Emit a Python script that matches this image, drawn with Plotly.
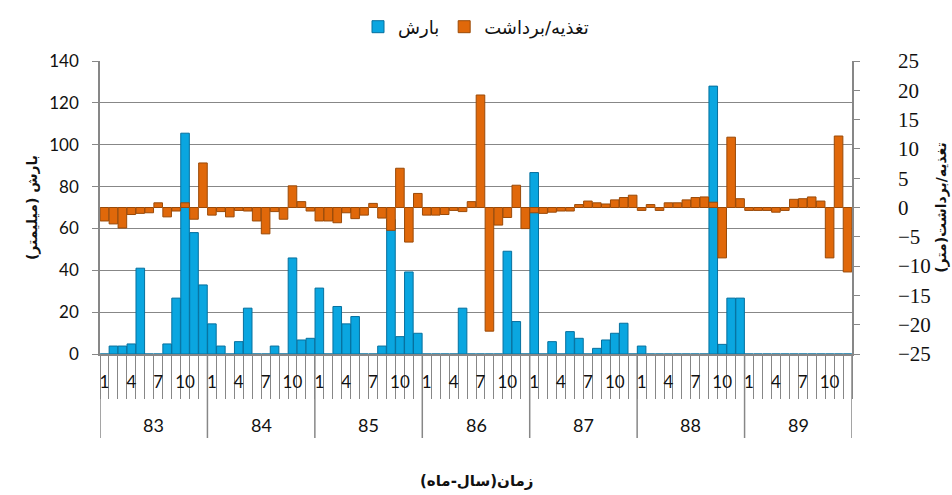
import plotly.graph_objects as go

# ---------------- data ----------------
years = ["83", "84", "85", "86", "87", "88", "89"]
months = ["1", "2", "3", "4", "5", "6", "7", "8", "9", "10", "11", "12"]
shown_months = ["1", "4", "7", "10"]

# precipitation (mm), per year, months 1..12
rain_83 = [0, 3.8, 3.8, 4.8, 41, 0, 0, 4.8, 26.7, 105.5, 58, 33]
rain_84 = [14.4, 3.8, 0, 5.9, 21.9, 0, 0, 3.8, 0, 45.9, 6.7, 7.5]
rain_85 = [31.5, 0, 22.7, 14.4, 17.9, 0, 0, 3.8, 64.3, 8.3, 39.2, 9.9]
rain_86 = [0, 0, 0, 0, 21.9, 0, 0, 0, 0, 49.1, 15.5, 0]
rain_87 = [86.7, 0, 5.9, 0, 10.7, 7.5, 0, 2.7, 6.7, 9.9, 14.7, 0]
rain_88 = [3.8, 0, 0, 0, 0, 0, 0, 0, 128, 4.6, 26.7, 26.7]
rain_89 = [0, 0, 0, 0, 0, 0, 0, 0, 0, 0, 0, 0]

# recharge / withdrawal (m), per year, months 1..12
gw_83 = [-2.3, -2.8, -3.5, -1.2, -1.0, -0.9, 0.8, -1.6, -0.6, 0.8, -2.0, 7.6]
gw_84 = [-1.3, -0.7, -1.6, -0.5, -0.6, -2.3, -4.5, -0.7, -2.0, 3.7, 1.0, -0.6]
gw_85 = [-2.3, -2.3, -2.6, -0.9, -1.9, -1.3, 0.7, -1.8, -3.9, 6.7, -5.9, 2.4]
gw_86 = [-1.3, -1.3, -1.2, -0.5, -0.7, 1.0, 19.2, -21.1, -3.0, -1.7, 3.8, -3.6]
gw_87 = [-0.9, -1.0, -0.8, -0.6, -0.6, 0.5, 1.1, 0.8, 0.6, 1.3, 1.7, 2.1]
gw_88 = [-0.5, 0.5, -0.5, 0.8, 0.8, 1.3, 1.7, 1.8, 0.9, -8.6, 12.0, 1.5]
gw_89 = [-0.5, -0.5, -0.5, -0.8, -0.5, 1.4, 1.5, 1.8, 1.1, -8.6, 12.2, -11.0]

rain = rain_83 + rain_84 + rain_85 + rain_86 + rain_87 + rain_88 + rain_89
gw = gw_83 + gw_84 + gw_85 + gw_86 + gw_87 + gw_88 + gw_89

n_m = len(months)
idx = list(range(len(years) * n_m))
tick_vals = [yi * n_m + months.index(m) for yi in range(len(years)) for m in shown_months]
tick_text = [m for yi in range(len(years)) for m in shown_months]

GRID = "#878787"
ARABIC = "DejaVu Sans"
LAT = "Lato, 'Open Sans', sans-serif"
SERIF = "'Liberation Serif', 'Times New Roman', serif"

fig = go.Figure()
fig.add_trace(go.Bar(
    x=idx, y=rain, name="بارش", yaxis="y",
    marker=dict(color="#0AA6E0", line=dict(color="#06709E", width=1)),
))
fig.add_trace(go.Bar(
    x=idx, y=gw, name="تغذیه/برداشت", yaxis="y2",
    marker=dict(color="#E0680A", line=dict(color="#9A4A08", width=1)),
))

# plot-area geometry (px) for placing the hierarchical labels
PLOT_H = 495 - 61 - 141

shapes = []
for yi in range(len(years) + 1):
    xb = yi * n_m - 0.5
    shapes.append(dict(type="line", xref="x", yref="paper",
                       x0=xb, x1=xb, y0=0, y1=-84 / PLOT_H,
                       line=dict(color=GRID, width=1.5)))

annotations = []
for yi, yr in enumerate(years):
    annotations.append(dict(x=yi * n_m + (n_m - 1) / 2, y=-71 / PLOT_H,
                            xref="x", yref="paper", text=yr, showarrow=False,
                            yanchor="middle", font=dict(family=LAT, size=18, color="#111")))
annotations.append(dict(x=0.5, y=-127 / PLOT_H, xref="paper", yref="paper",
                        text="<b>زمان(سال-ماه)</b>", showarrow=False, yanchor="middle",
                        font=dict(family=ARABIC, size=15, color="#111")))

fig.update_layout(
    width=952, height=495,
    margin=dict(l=100, r=100, t=61, b=141, autoexpand=False),
    paper_bgcolor="white", plot_bgcolor="white",
    bargap=0.04,
    showlegend=True,
    legend=dict(orientation="h", x=0.5, xanchor="center", y=1 - 27 / 495, yanchor="middle",
                yref="container", font=dict(family=ARABIC, size=18, color="#111"),
                traceorder="normal", itemwidth=30),
    xaxis=dict(
        range=[-0.5, len(idx) - 0.5], showgrid=False, zeroline=False, automargin=False,
        showline=True, linecolor=GRID, linewidth=1.5,
        tickmode="array", tickvals=tick_vals, ticktext=tick_text,
        ticks="", ticklabelstandoff=12,
        tickfont=dict(family=LAT, size=17, color="#111"),
        minor=dict(tickmode="linear", tick0=-0.5, dtick=1, ticks="outside",
                   ticklen=43, tickcolor=GRID, tickwidth=1.2, showgrid=False),
    ),
    yaxis=dict(
        range=[0, 140], dtick=20, showgrid=True, gridcolor=GRID, gridwidth=1.3,
        zeroline=False, showline=True, linecolor=GRID, linewidth=1.5, automargin=False,
        ticks="outside", ticklen=6, tickcolor=GRID,
        ticklabelposition="outside", ticklabelstandoff=10,
        tickfont=dict(family=LAT, size=17, color="#111"),
        title=dict(text="<b>بارش (میلیمتر)</b>", standoff=8,
                   font=dict(family=ARABIC, size=14, color="#111")),
    ),
    yaxis2=dict(
        range=[-25, 25], dtick=5, overlaying="y", side="right", showgrid=False,
        zeroline=False, showline=True, linecolor=GRID, linewidth=1.5, automargin=False,
        ticks="outside", ticklen=6, tickcolor=GRID,
        ticklabelposition="outside", ticklabelstandoff=34,
        tickfont=dict(family=SERIF, size=21, color="#111"),
        title=dict(text="<b>تغذیه/برداشت(متر)</b>", standoff=6,
                   font=dict(family=ARABIC, size=14, color="#111")),
    ),
    shapes=shapes,
    annotations=annotations,
)

fig.write_html("out.html", post_script="document.body.style.margin='0';",
               config={"displayModeBar": False})
